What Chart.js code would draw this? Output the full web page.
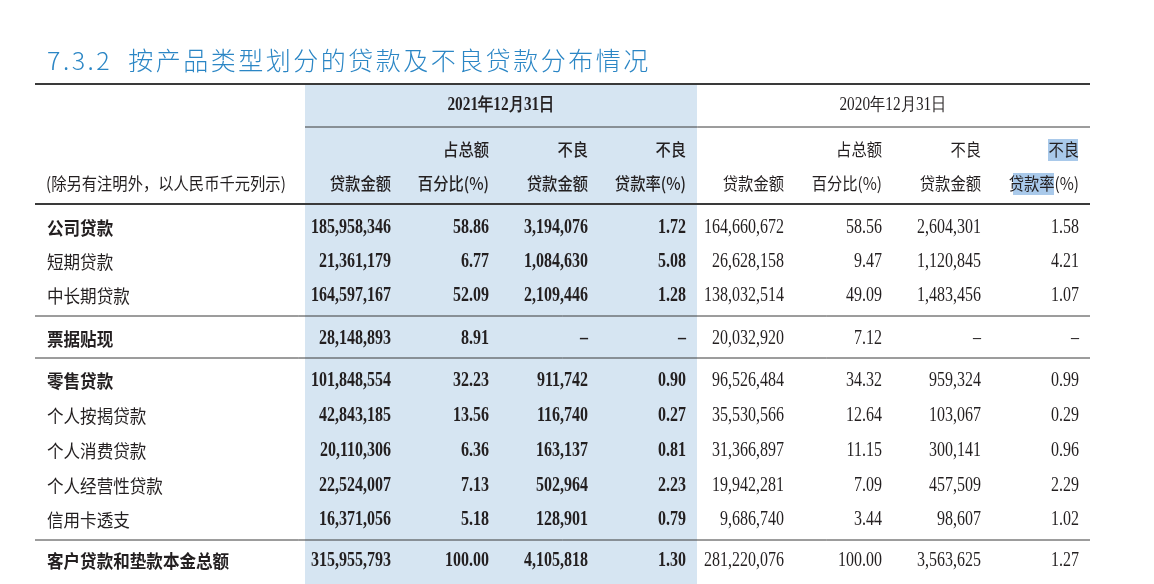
<!DOCTYPE html>
<html>
<head>
<meta charset="utf-8">
<script src="https://cdn.jsdelivr.net/npm/chart.js@4"></script>
<style>
  html, body { margin: 0; padding: 0; background: #fff; }
  #wrap { width: 1154px; height: 584px; position: relative; }
</style>
</head>
<body>
<div id="wrap"><canvas id="c"></canvas></div>
<script>
const title = "7.3.2  按产品类型划分的贷款及不良贷款分布情况"
const unitNote = "(除另有注明外，以人民币千元列示)"
const periods = ["2021年12月31日", "2020年12月31日"]
const headTop = ["", "占总额", "不良", "不良", "", "占总额", "不良", "不良"]
const headBottom = ["贷款金额", "百分比(%)", "贷款金额", "贷款率(%)", "贷款金额", "百分比(%)", "贷款金额", "贷款率(%)"]

const rowLabels = ["公司贷款", "短期贷款", "中长期贷款", "票据贴现", "零售贷款", "个人按揭贷款", "个人消费贷款", "个人经营性贷款", "信用卡透支", "客户贷款和垫款本金总额"]
const boldRows = [true, false, false, true, true, false, false, false, false, true]

// 2021
const loan2021 = [185958346, 21361179, 164597167, 28148893, 101848554, 42843185, 20110306, 22524007, 16371056, 315955793]
const share2021 = [58.86, 6.77, 52.09, 8.91, 32.23, 13.56, 6.36, 7.13, 5.18, 100.00]
const npl2021 = [3194076, 1084630, 2109446, null, 911742, 116740, 163137, 502964, 128901, 4105818]
const nplRatio2021 = [1.72, 5.08, 1.28, null, 0.90, 0.27, 0.81, 2.23, 0.79, 1.30]
// 2020
const loan2020 = [164660672, 26628158, 138032514, 20032920, 96526484, 35530566, 31366897, 19942281, 9686740, 281220076]
const share2020 = [58.56, 9.47, 49.09, 7.12, 34.32, 12.64, 11.15, 7.09, 3.44, 100.00]
const npl2020 = [2604301, 1120845, 1483456, null, 959324, 103067, 300141, 457509, 98607, 3563625]
const nplRatio2020 = [1.58, 4.21, 1.07, null, 0.99, 0.29, 0.96, 2.29, 1.02, 1.27]

const columns = [loan2021, share2021, npl2021, nplRatio2021, loan2020, share2020, npl2020, nplRatio2020]
const intCols = [true, false, true, false, true, false, true, false]

// layout (pixel units on the linear scales)
const colRight = [391, 489, 588, 686, 784, 882, 981, 1079]
const rowY = [228, 262, 296, 339, 381, 416, 451, 486, 520, 561]
const ruleY = [316, 358, 540]

const fmt = (v, isInt) => v === null ? "–" :
  isInt ? v.toLocaleString("en-US") : v.toFixed(2)

const TEXT = "#231f20"
const CJK = "'Noto Sans CJK SC', sans-serif"
const NUM = "'Liberation Serif', serif"

function narrowText(ctx, s, x, y, align, font, sx) {
  ctx.save()
  ctx.font = font
  ctx.textAlign = align
  ctx.textBaseline = "middle"
  ctx.translate(x, y)
  ctx.scale(sx, 1)
  ctx.fillText(s, 0, 0)
  ctx.restore()
}

const tablePlugin = {
  id: "table",
  beforeDatasetsDraw(chart) {
    const { ctx, scales: { x, y } } = chart
    const px = v => x.getPixelForValue(v)
    const py = v => y.getPixelForValue(v)
    ctx.save()
    // 2021 shaded band
    ctx.fillStyle = "#d6e5f2"
    ctx.fillRect(px(305), py(85), px(697) - px(305), py(584) - py(85))
    // selection highlight in last header
    ctx.fillStyle = "#a9c9ea"
    ctx.fillRect(px(1048), py(139), px(1078) - px(1048), 22)
    ctx.fillRect(px(1013), py(173), px(1054) - px(1013), 22)

    // title
    ctx.fillStyle = "#2b86c5"
    ctx.font = "300 25px " + CJK
    ctx.letterSpacing = "2.5px"
    ctx.textBaseline = "middle"
    ctx.textAlign = "left"
    ctx.fillText(title, px(47), py(60))
    ctx.letterSpacing = "0px"

    // rules
    ctx.strokeStyle = "#3a3a3a"
    const hline = (yy, x0, x1, w) => {
      ctx.lineWidth = w
      ctx.beginPath(); ctx.moveTo(px(x0), py(yy)); ctx.lineTo(px(x1), py(yy)); ctx.stroke()
    }
    hline(84, 35, 1090, 2)
    hline(127, 305, 1090, 1)
    hline(204, 35, 1090, 2)
    ruleY.forEach(r => hline(r, 35, 1090, 1))

    ctx.fillStyle = TEXT
    // period headers
    narrowText(ctx, periods[0], px(501), py(105), "center", "bold 18px " + NUM, 0.85)
    narrowText(ctx, periods[1], px(893), py(105), "center", "18px " + NUM, 0.85)
    // column headers
    headTop.forEach((h, i) => {
      if (h) narrowText(ctx, h, px(colRight[i]), py(150), "right", (i < 4 ? "500 " : "") + "17px " + CJK, 0.9)
    })
    headBottom.forEach((h, i) => {
      narrowText(ctx, h, px(colRight[i]), py(184), "right", (i < 4 ? "500 " : "") + "17px " + CJK, 0.9)
    })
    narrowText(ctx, unitNote, px(46), py(184), "left", "17px " + CJK, 0.9)

    // rows
    rowLabels.forEach((lab, r) => {
      narrowText(ctx, lab, px(47), py(rowY[r]), "left", (boldRows[r] ? "bold " : "") + "18px " + CJK, 0.92)
      columns.forEach((col, c) => {
        const bold = c < 4 ? "bold " : ""
        narrowText(ctx, fmt(col[r], intCols[c]), px(colRight[c]), py(rowY[r]), "right", bold + "20px " + NUM, 0.8)
      })
    })
    ctx.restore()
  }
}

new Chart(document.getElementById("c"), {
  type: "scatter",
  data: { datasets: [{ data: [] }] },
  options: {
    responsive: true,
    maintainAspectRatio: false,
    animation: false,
    layout: { padding: 0 },
    plugins: { legend: { display: false }, tooltip: { enabled: false } },
    scales: {
      x: { type: "linear", min: 0, max: 1154, display: false },
      y: { type: "linear", min: 0, max: 584, reverse: true, display: false }
    }
  },
  plugins: [tablePlugin]
})
</script>
</body>
</html>
